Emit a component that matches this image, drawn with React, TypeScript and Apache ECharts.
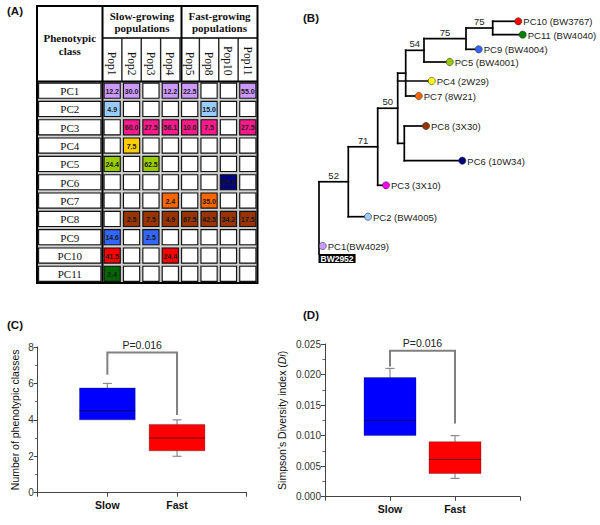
import React, { useEffect, useRef } from "react";
import * as echarts from "echarts";

// ---------- Panel A data ----------
const populations = ["Pop1", "Pop2", "Pop3", "Pop4", "Pop5", "Pop8", "Pop10", "Pop11"];
const phenotypeClasses = ["PC1", "PC2", "PC3", "PC4", "PC5", "PC6", "PC7", "PC8", "PC9", "PC10", "PC11"];
const classColors = ["#cc99ff", "#99ccff", "#ff1a8c", "#ffcc00", "#99cc00", "#000080", "#ff6600", "#993300", "#3366ff", "#ff0000", "#006600"];
// frequency (%) of each phenotypic class (rows) in each population (columns)
const pc1Row = [12.2, 30.0, null, 12.2, 22.5, null, null, 55.0];
const pc2Row = [4.9, null, null, null, null, 15.0, null, null];
const pc3Row = [null, 60.0, 27.5, 56.1, 10.0, 7.5, null, 27.5];
const pc4Row = [null, 7.5, null, null, null, null, null, null];
const pc5Row = [24.4, null, 62.5, null, null, null, null, null];
const pc6Row = [null, null, null, null, null, null, 65.8, null];
const pc7Row = [null, null, null, 2.4, null, 35.0, null, null];
const pc8Row = [null, 2.5, 7.5, 4.9, 67.5, 42.5, 34.2, 17.5];
const pc9Row = [14.6, null, 2.5, null, null, null, null, null];
const pc10Row = [41.5, null, null, 24.4, null, null, null, null];
const pc11Row = [2.4, null, null, null, null, null, null, null];
const frequencies: (number | null)[][] = [pc1Row, pc2Row, pc3Row, pc4Row, pc5Row, pc6Row, pc7Row, pc8Row, pc9Row, pc10Row, pc11Row];
const classHeader = "Phenotypic\nclass";
const slowHeader = "Slow-growing\npopulations";
const fastHeader = "Fast-growing\npopulations";

// ---------- Panel B data (tree: depth along x, leaf position along y) ----------
type TreeNode = { id: string; parent: string | null; x: number; y?: number; label?: string; color?: string; support?: string; stemEnd?: number; outgroup?: string };
const treeNodes: TreeNode[] = [
  { id: "root", parent: null, x: 0, stemEnd: 25.4, outgroup: "BW2952" },
  { id: "n52", parent: "root", x: 2.93, support: "52" },
  { id: "PC1", parent: "root", x: 0.37, y: 24.6, label: "PC1(BW4029)", color: "#cc99ff" },
  { id: "n71", parent: "n52", x: 5.87, support: "71" },
  { id: "PC2", parent: "n52", x: 4.9, y: 21.67, label: "PC2 (BW4005)", color: "#99ccff" },
  { id: "n50", parent: "n71", x: 7.87, support: "50" },
  { id: "PC3", parent: "n71", x: 6.7, y: 18.53, label: "PC3 (3X10)", color: "#ff00ff" },
  { id: "nA", parent: "n50", x: 8.67 },
  { id: "PC4", parent: "n50", x: 11.27, y: 8.1, label: "PC4 (2W29)", color: "#ffff00" },
  { id: "nB", parent: "n50", x: 8.53 },
  { id: "n54", parent: "nA", x: 10.5, support: "54" },
  { id: "PC7", parent: "nA", x: 9.97, y: 9.6, label: "PC7 (8W21)", color: "#ff6600" },
  { id: "n75a", parent: "n54", x: 14.7, support: "75" },
  { id: "PC5", parent: "n54", x: 13.07, y: 6.2, label: "PC5 (BW4001)", color: "#99cc00" },
  { id: "n75b", parent: "n75a", x: 17.37, support: "75" },
  { id: "PC9", parent: "n75a", x: 15.97, y: 4.93, label: "PC9 (BW4004)", color: "#3366ff" },
  { id: "PC10", parent: "n75b", x: 19.93, y: 2.13, label: "PC10 (BW3767)", color: "#ff0000" },
  { id: "PC11", parent: "n75b", x: 20.37, y: 3.47, label: "PC11 (BW4040)", color: "#008000" },
  { id: "PC8", parent: "nB", x: 10.7, y: 12.6, label: "PC8 (3X30)", color: "#993300" },
  { id: "PC6", parent: "nB", x: 14.33, y: 16.07, label: "PC6 (10W34)", color: "#000080" },
];

// ---------- Panels C & D data ----------
const groupCategories = ["", "Slow", "Fast", ""];
const groups = ["Slow", "Fast"];
const groupColors = ["#0000ff", "#ff0000"];
// [min, Q1, median, Q3, max]
const classCountStats = [[4, 4, 4.5, 5.75, 6], [2, 2.3, 3, 3.75, 4]];
const simpsonStats = [[0.01, 0.01, 0.0125, 0.0195, 0.021], [0.003, 0.0038, 0.0061, 0.009, 0.01]];
// [left start, top, right end]
const classCountBracket = [6.47, 7.7, 4.27];
const simpsonBracket = [0.0213, 0.0239, 0.012];
const pValueText = "P=0.016";

// ---------- layout helpers ----------
const SANS = "Liberation Sans, Arial, sans-serif";
const SERIF = "Liberation Serif, Times New Roman, serif";
const T_LEFT = 37;
const T_TOP = 6;
const G_LEFT = 102.5;
const G_TOP = 81.5;
const G_W = 155;
const G_H = 201.5;
const HEADER_MID = 38;
const GROUP_SPLIT = 181.5;

type Laid = TreeNode & { children: Laid[]; minY?: number; maxY?: number; parentX?: number; yy: number };
function layoutTree(nodes: TreeNode[]): Laid[] {
  const map: Record<string, Laid> = {};
  nodes.forEach((n) => (map[n.id] = { ...n, children: [], yy: n.y ?? 0 }));
  nodes.forEach((n) => {
    if (n.parent) {
      map[n.parent].children.push(map[n.id]);
      map[n.id].parentX = map[n.parent].x;
    }
  });
  const getY = (n: Laid): number => {
    if (n.children.length === 0) return (n.yy = n.y as number);
    const ys = n.children.map(getY);
    n.minY = Math.min(...ys);
    n.maxY = Math.max(...ys);
    n.yy = (n.minY + n.maxY) / 2;
    return n.yy;
  };
  getY(map["root"]);
  return nodes.map((n) => map[n.id]);
}
const treeLayout = layoutTree(treeNodes);

function boxRender(stats: number[][]) {
  return (params: any, api: any) => {
    const i = params.dataIndex;
    const xi = api.value(0);
    const [mn, q1, md, q3, mx] = [1, 2, 3, 4, 5].map((d) => api.value(d));
    const bw = api.size([1, 0])[0] * 0.8;
    const cx = api.coord([xi, md])[0];
    const Y = (v: number) => api.coord([xi, v])[1];
    const cap = 4.5;
    const wl = { stroke: "#8c8c8c", lineWidth: 1.2 };
    const els: any[] = [];
    if (mx > q3) {
      els.push({ type: "line", shape: { x1: cx, y1: Y(q3), x2: cx, y2: Y(mx) }, style: wl });
      els.push({ type: "line", shape: { x1: cx - cap, y1: Y(mx), x2: cx + cap, y2: Y(mx) }, style: wl });
    }
    if (mn < q1) {
      els.push({ type: "line", shape: { x1: cx, y1: Y(q1), x2: cx, y2: Y(mn) }, style: wl });
      els.push({ type: "line", shape: { x1: cx - cap, y1: Y(mn), x2: cx + cap, y2: Y(mn) }, style: wl });
    }
    els.push({
      type: "rect",
      shape: { x: cx - bw / 2, y: Y(q3), width: bw, height: Y(q1) - Y(q3) },
      style: { fill: groupColors[i], stroke: "rgba(0,0,0,0.35)", lineWidth: 0.8 },
    });
    els.push({ type: "line", shape: { x1: cx - bw / 2, y1: Y(md), x2: cx + bw / 2, y2: Y(md) }, style: { stroke: "rgba(0,0,0,0.55)", lineWidth: 1 } });
    return { type: "group", children: els };
  };
}

function bracketRender(params: any, api: any) {
  const from = api.value(0), top = api.value(1), to = api.value(2);
  const a = api.coord([1, from]);
  const t1 = api.coord([1, top]);
  const t2 = api.coord([2, top]);
  const b = api.coord([2, to]);
  return {
    type: "group",
    children: [
      { type: "polyline", shape: { points: [a, t1, t2, b] }, style: { stroke: "#808080", lineWidth: 2, fill: null } },
      {
        type: "text",
        style: { text: pValueText, x: (t1[0] + t2[0]) / 2, y: t1[1] - 2, align: "center", verticalAlign: "bottom", fontSize: 10.5, fontFamily: SANS, fill: "#222" },
      },
    ],
  };
}

function valueAxis(grid: number, min: number, max: number, interval: number, fmt: (v: number) => string, name: string, nameGap: number) {
  return {
    gridIndex: grid,
    type: "value",
    min,
    max,
    interval,
    name,
    nameLocation: "middle",
    nameGap,
    nameTextStyle: { fontSize: 10.5, color: "#111", fontFamily: SANS, rich: { i: { fontStyle: "italic", fontSize: 10.5, color: "#111", fontFamily: SANS } } },
    axisLine: { show: true, lineStyle: { color: "#444", width: 1 } },
    axisTick: { show: true, length: 4, lineStyle: { color: "#444" } },
    minorTick: { show: true, splitNumber: 2, length: 2.5, lineStyle: { color: "#666" } },
    splitLine: { show: false },
    axisLabel: { fontSize: 10, color: "#333", fontFamily: SANS, margin: 4, formatter: fmt },
  };
}

function catAxis(grid: number) {
  return {
    gridIndex: grid,
    type: "category",
    data: groupCategories,
    boundaryGap: false,
    axisLine: { lineStyle: { color: "#444", width: 1 } },
    axisTick: { show: true, interval: 0, length: 4, lineStyle: { color: "#444" } },
    axisLabel: { interval: 0, fontWeight: "bold", fontSize: 10.5, color: "#111", fontFamily: SANS, margin: 7 },
    splitLine: { show: false },
  };
}

function buildOption() {
  const colW = G_W / populations.length;
  const headerLines: any[] = [
    { type: "line", shape: { x1: G_LEFT, y1: HEADER_MID, x2: T_LEFT + 220.5, y2: HEADER_MID }, style: { stroke: "#000", lineWidth: 1.6 } },
    { type: "line", shape: { x1: T_LEFT, y1: G_TOP, x2: T_LEFT + 220.5, y2: G_TOP }, style: { stroke: "#000", lineWidth: 2 } },
    { type: "line", shape: { x1: G_LEFT, y1: T_TOP, x2: G_LEFT, y2: G_TOP + G_H }, style: { stroke: "#000", lineWidth: 2 } },
    { type: "line", shape: { x1: GROUP_SPLIT, y1: T_TOP, x2: GROUP_SPLIT, y2: G_TOP }, style: { stroke: "#000", lineWidth: 2 } },
  ];
  for (let k = 1; k < populations.length; k++) {
    const x = G_LEFT + k * colW;
    if (Math.abs(x - GROUP_SPLIT) < 1) continue;
    headerLines.push({ type: "line", shape: { x1: x, y1: HEADER_MID, x2: x, y2: G_TOP }, style: { stroke: "#222", lineWidth: 1.4 } });
  }
  headerLines.push({ type: "rect", shape: { x: T_LEFT, y: T_TOP, width: 220.5, height: G_TOP + G_H - T_TOP }, style: { fill: "transparent", stroke: "#000", lineWidth: 2 } });

  const headerTexts: any[] = [
    { type: "text", x: (T_LEFT + G_LEFT) / 2, y: 44, style: { text: classHeader, align: "center", verticalAlign: "middle", fontSize: 11, fontWeight: "bold", fontFamily: SERIF, lineHeight: 13, fill: "#111" } },
    { type: "text", x: (G_LEFT + GROUP_SPLIT) / 2, y: 22, style: { text: slowHeader, align: "center", verticalAlign: "middle", fontSize: 11, fontWeight: "bold", fontFamily: SERIF, lineHeight: 12.5, fill: "#111" } },
    { type: "text", x: (GROUP_SPLIT + T_LEFT + 220.5) / 2, y: 22, style: { text: fastHeader, align: "center", verticalAlign: "middle", fontSize: 11, fontWeight: "bold", fontFamily: SERIF, lineHeight: 12.5, fill: "#111" } },
  ];
  const panelLabels: any[] = [
    { type: "text", x: 7, y: 11, style: { text: "(A)", verticalAlign: "middle", fontSize: 11.5, fontWeight: "bold", fontFamily: SANS, fill: "#111" } },
    { type: "text", x: 303, y: 18, style: { text: "(B)", verticalAlign: "middle", fontSize: 11.5, fontWeight: "bold", fontFamily: SANS, fill: "#111" } },
    { type: "text", x: 7, y: 325, style: { text: "(C)", verticalAlign: "middle", fontSize: 11.5, fontWeight: "bold", fontFamily: SANS, fill: "#111" } },
    { type: "text", x: 303, y: 315, style: { text: "(D)", verticalAlign: "middle", fontSize: 11.5, fontWeight: "bold", fontFamily: SANS, fill: "#111" } },
  ];

  const tableData: number[][] = [];
  phenotypeClasses.forEach((_, r) => populations.forEach((__, c) => tableData.push([c, r])));

  return {
    animation: false,
    backgroundColor: "#fff",
    grid: [
      { left: G_LEFT, top: G_TOP, width: G_W, height: G_H },
      { left: 319, top: 0, width: 220, height: 250 },
      { left: 37.7, top: 347, width: 209, height: 145.7 },
      { left: 325, top: 344, width: 195, height: 152.7 },
    ],
    xAxis: [
      {
        gridIndex: 0,
        type: "category",
        data: populations,
        position: "top",
        axisLine: { show: false },
        axisTick: { show: false },
        axisLabel: { rotate: 90, margin: 6, fontSize: 11.5, fontFamily: SERIF, color: "#111", interval: 0 },
      },
      { gridIndex: 1, type: "value", min: 0, max: 22, show: false },
      catAxis(2),
      catAxis(3),
    ],
    yAxis: [
      { gridIndex: 0, type: "category", data: phenotypeClasses, inverse: true, show: false },
      { gridIndex: 1, type: "value", min: 0, max: 25, inverse: true, show: false },
      valueAxis(2, 0, 8, 2, (v) => String(v), "Number of phenotypic classes", 17),
      valueAxis(3, 0, 0.025, 0.005, (v) => v.toFixed(3), "Simpson's Diversity index ({i|Di})", 38),
    ],
    graphic: [...headerLines.map((g) => ({ ...g, z: 100 })), ...headerTexts, ...panelLabels],
    series: [
      {
        type: "custom",
        xAxisIndex: 0,
        yAxisIndex: 0,
        clip: false,
        data: tableData,
        encode: { x: 0, y: 1 },
        renderItem: (params: any, api: any) => {
          const c = api.value(0), r = api.value(1);
          const center = api.coord([c, r]);
          const size = api.size([1, 1]);
          const w = size[0], h = size[1];
          const x0 = center[0] - w / 2, y0 = center[1] - h / 2;
          const v = frequencies[r][c];
          const inset = 1.6;
          const els: any[] = [
            { type: "rect", shape: { x: x0, y: y0, width: w, height: h }, style: { fill: "#c4c4c4" } },
            { type: "rect", shape: { x: x0 + inset, y: y0 + inset, width: w - 2 * inset, height: h - 2 * inset }, style: { fill: v == null ? "#fff" : classColors[r], stroke: "#111", lineWidth: 1.1 } },
          ];
          if (v != null) {
            els.push({ type: "text", style: { text: v.toFixed(1), x: center[0], y: center[1] + 0.5, align: "center", verticalAlign: "middle", fontSize: 7, fontWeight: "bold", fontFamily: SANS, fill: "#1a1a1a" } });
          }
          if (c === 0) {
            const lx = T_LEFT;
            const lw = x0 - T_LEFT;
            els.push({ type: "rect", shape: { x: lx, y: y0, width: lw, height: h }, style: { fill: "#c4c4c4" } });
            els.push({ type: "rect", shape: { x: lx + inset, y: y0 + inset, width: lw - 2 * inset, height: h - 2 * inset }, style: { fill: "#fff", stroke: "#111", lineWidth: 1.1 } });
            els.push({ type: "text", style: { text: phenotypeClasses[r], x: lx + lw / 2, y: center[1] + 0.5, align: "center", verticalAlign: "middle", fontSize: 11, fontFamily: SERIF, fill: "#111" } });
          }
          return { type: "group", children: els };
        },
      },
      {
        type: "custom",
        xAxisIndex: 1,
        yAxisIndex: 1,
        clip: false,
        data: treeLayout.map((n) => [n.x, n.yy]),
        encode: { x: 0, y: 1 },
        renderItem: (params: any, api: any) => {
          const n = treeLayout[params.dataIndex];
          const p = api.coord([n.x, n.yy]);
          const ls = { stroke: "#000", lineWidth: 1.7, lineCap: "square" };
          const els: any[] = [];
          if (n.parentX != null) {
            const q = api.coord([n.parentX, n.yy]);
            els.push({ type: "line", shape: { x1: q[0], y1: p[1], x2: p[0], y2: p[1] }, style: ls });
            if (n.support) {
              els.push({ type: "text", style: { text: n.support, x: (q[0] + p[0]) / 2, y: p[1] - 1.5, align: "center", verticalAlign: "bottom", fontSize: 9.5, fontFamily: SANS, fill: "#222" } });
            }
          }
          if (n.children.length) {
            const a = api.coord([n.x, n.minY]);
            const b = api.coord([n.x, Math.max(n.maxY as number, n.stemEnd ?? -Infinity)]);
            els.push({ type: "line", shape: { x1: a[0], y1: a[1], x2: b[0], y2: b[1] }, style: ls });
          }
          if (n.label) {
            els.push({ type: "circle", shape: { cx: p[0], cy: p[1], r: 3.6 }, style: { fill: n.color, stroke: "#333", lineWidth: 0.6 } });
            els.push({ type: "text", style: { text: n.label, x: p[0] + 5, y: p[1] + 0.5, align: "left", verticalAlign: "middle", fontSize: 9.5, fontFamily: SANS, fill: "#222" } });
          }
          if (n.outgroup) {
            const o = api.coord([n.x, n.stemEnd]);
            els.push({ type: "text", style: { text: n.outgroup, x: o[0] - 0.5, y: o[1], align: "left", verticalAlign: "top", fontSize: 8.5, fontWeight: "bold", fontFamily: SANS, fill: "#fff", backgroundColor: "#000", padding: [0, 2, 0, 2] } });
          }
          return { type: "group", children: els };
        },
      },
      {
        type: "custom",
        xAxisIndex: 2,
        yAxisIndex: 2,
        data: groups.map((g, i) => [g, ...classCountStats[i]]),
        encode: { x: 0, y: [1, 2, 3, 4, 5] },
        renderItem: boxRender(classCountStats),
      },
      {
        type: "custom",
        xAxisIndex: 2,
        yAxisIndex: 2,
        clip: false,
        data: [classCountBracket],
        encode: { y: [0, 1, 2] },
        renderItem: bracketRender,
      },
      {
        type: "custom",
        xAxisIndex: 3,
        yAxisIndex: 3,
        data: groups.map((g, i) => [g, ...simpsonStats[i]]),
        encode: { x: 0, y: [1, 2, 3, 4, 5] },
        renderItem: boxRender(simpsonStats),
      },
      {
        type: "custom",
        xAxisIndex: 3,
        yAxisIndex: 3,
        clip: false,
        data: [simpsonBracket],
        encode: { y: [0, 1, 2] },
        renderItem: bracketRender,
      },
    ],
  };
}

export default function App() {
  const ref = useRef<HTMLDivElement>(null);
  useEffect(() => {
    const chart = echarts.init(ref.current as HTMLDivElement, null, { renderer: "svg" });
    chart.setOption(buildOption() as any);
    return () => chart.dispose();
  }, []);
  return <div ref={ref} style={{ position: "absolute", left: 0, top: 0, width: 600, height: 525, background: "#fff" }} />;
}
